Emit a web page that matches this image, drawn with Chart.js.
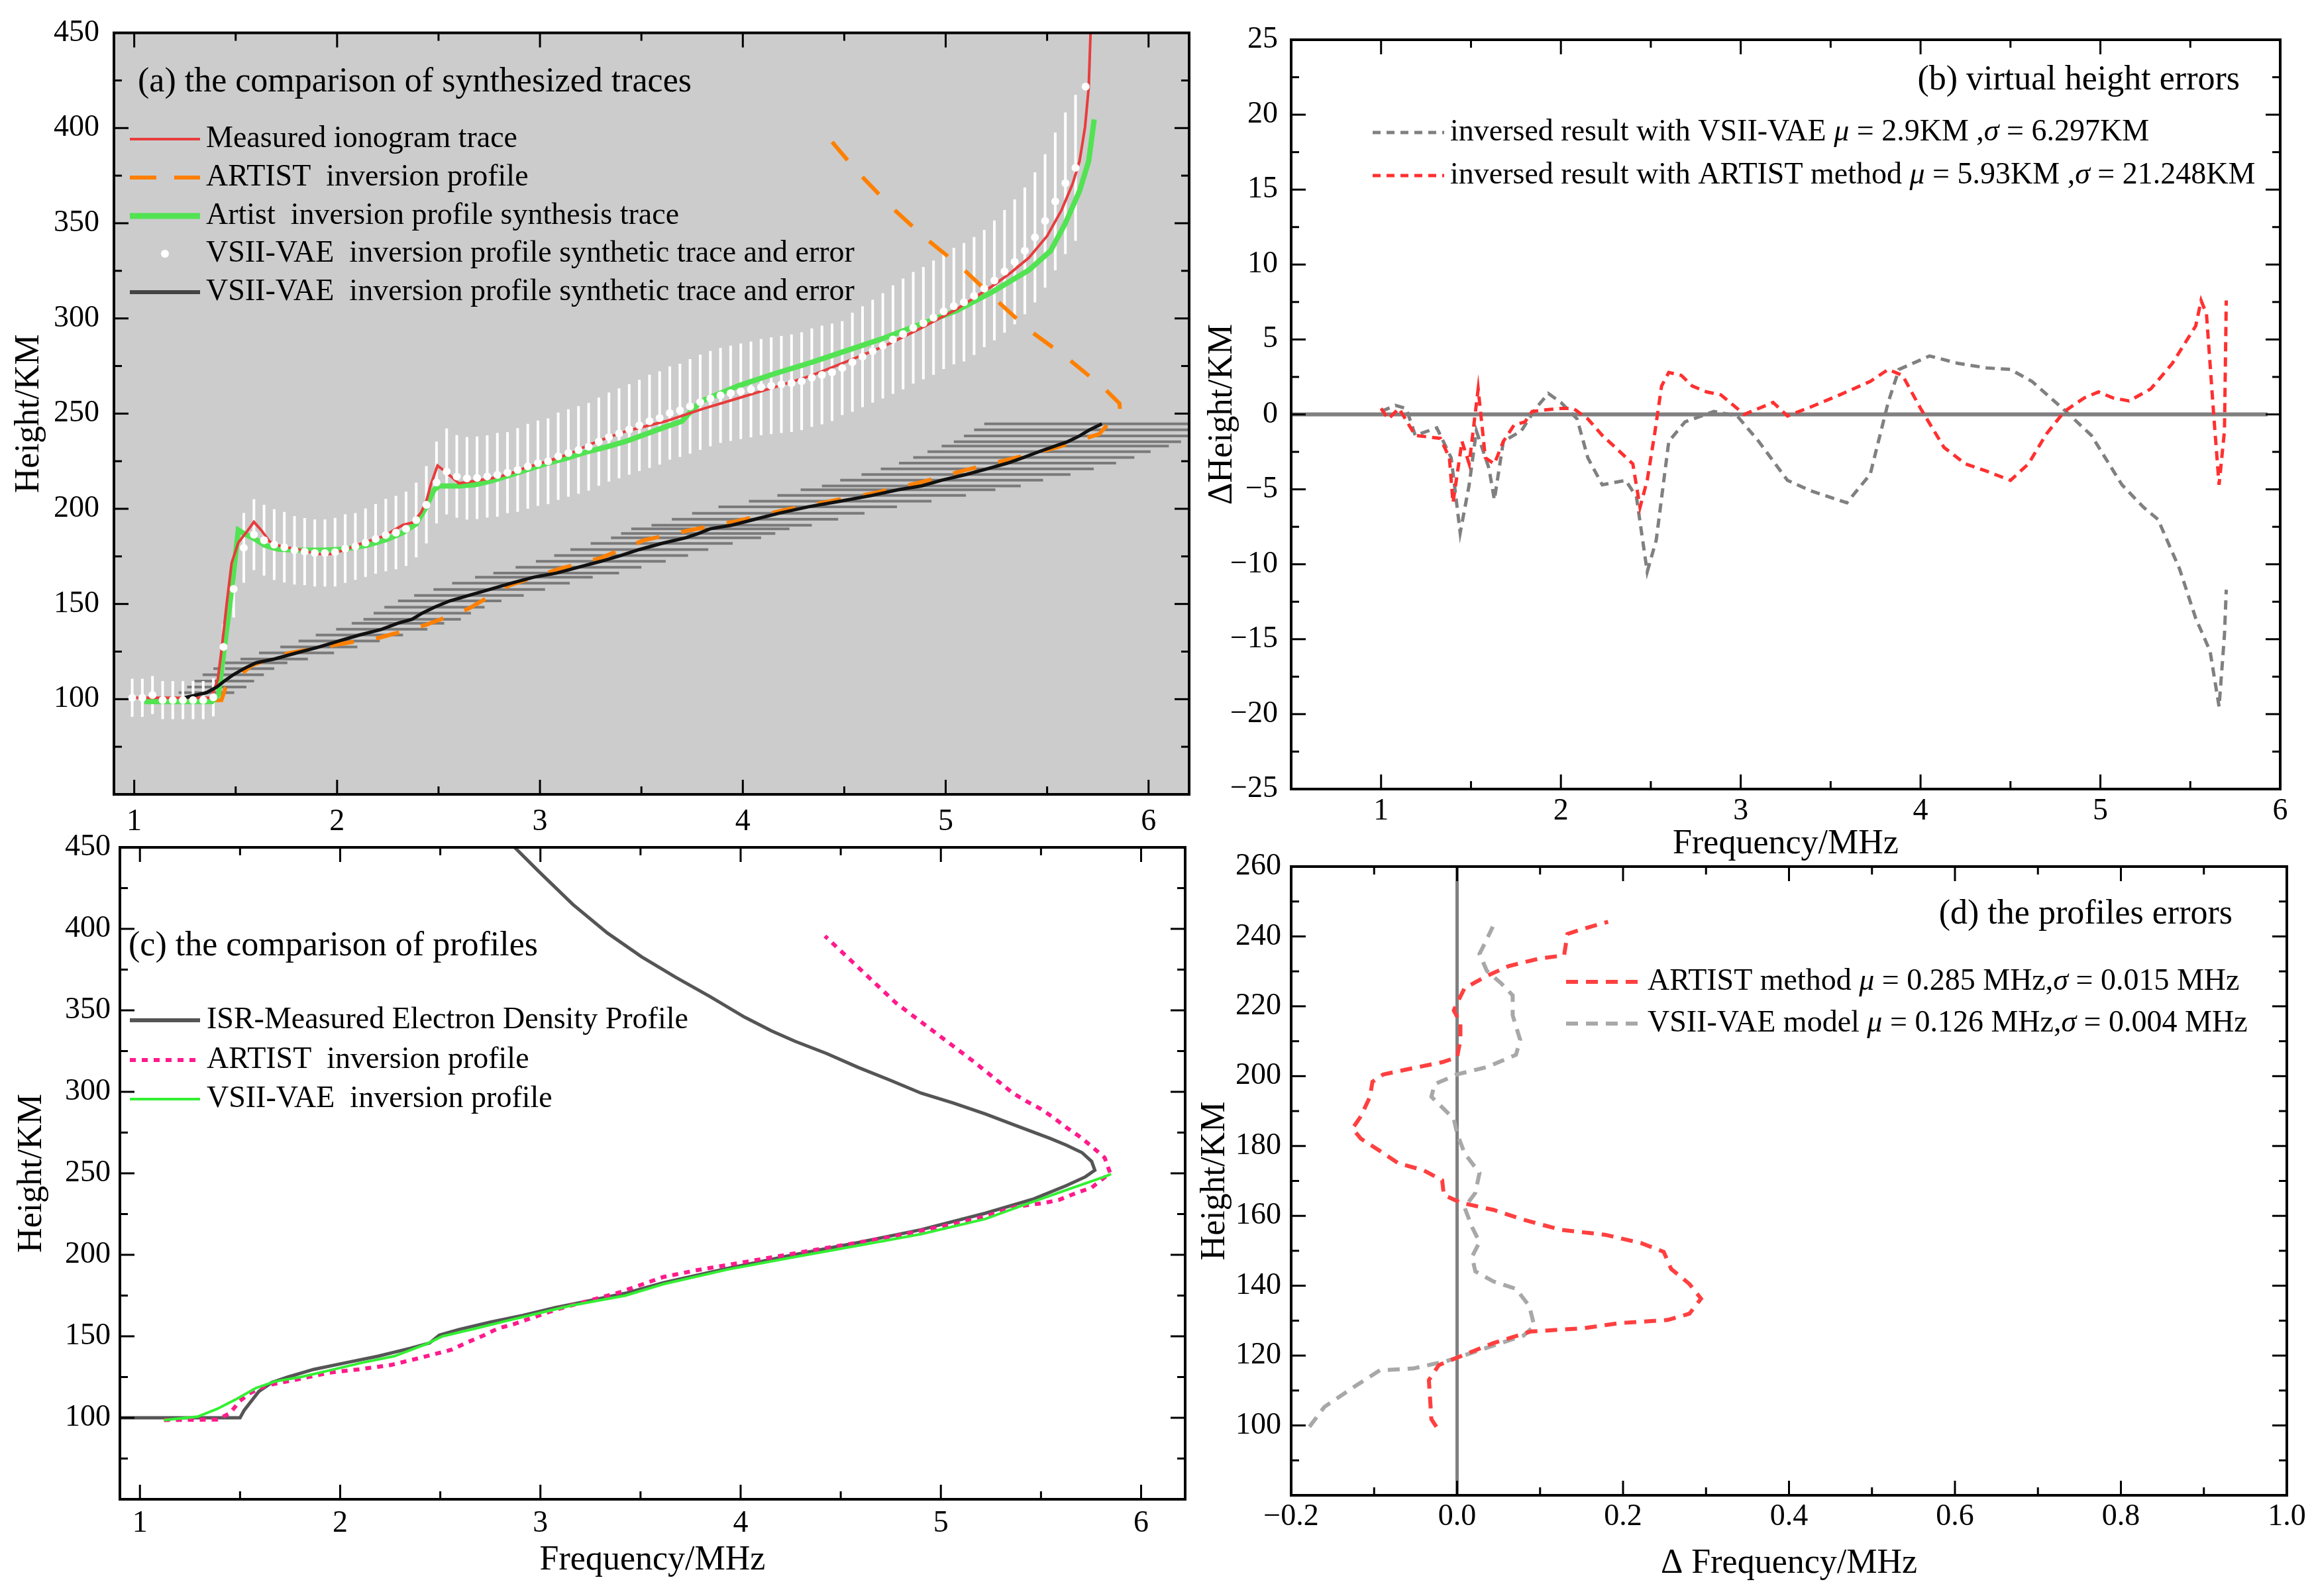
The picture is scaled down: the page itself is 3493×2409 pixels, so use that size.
<!DOCTYPE html>
<html><head><meta charset="utf-8">
<script src="https://cdn.jsdelivr.net/npm/chart.js@4.4.1/dist/chart.umd.min.js"></script>
<style>
html,body{margin:0;padding:0;background:#fff;}
body{width:3493px;height:2409px;position:relative;overflow:hidden;}
canvas{position:absolute;}
</style></head><body>
<canvas id="ca"></canvas><canvas id="cb"></canvas><canvas id="cc"></canvas><canvas id="cd"></canvas>
<script>
// ---------------- DATA ----------------
// Panel (a): measured ionogram trace
const measF = [1.00,1.38,1.412,1.431,1.456,1.48,1.513,1.561,1.59,1.626,1.667,1.724,1.805,1.902,1.967,2.032,2.13,2.227,2.324,2.373,2.414,2.438,2.462,2.495,2.535,2.60,2.682,2.763,2.844,2.925,3.006,3.088,3.169,3.25,3.331,3.429,3.62,3.80,3.978,4.157,4.336,4.515,4.694,4.873,5.052,5.231,5.321,5.41,5.50,5.571,5.625,5.66,5.687,5.705,5.714];
const measH = [100.7,100.7,110.4,126.4,150.3,171.5,182.2,188.8,193.1,188.8,182.8,180.2,178.8,176.2,176.2,178.2,182.2,185.5,191.5,192.8,198.1,203.4,212.7,222.7,219.4,213.4,214.7,216.1,218.1,221.4,224.0,226.7,230.0,234.0,237.3,240.9,246.0,252.4,258.1,263.9,269.9,277.5,285.3,294.6,304.7,317.1,324.0,331.9,343.3,356.9,370.5,382.7,400.6,421.4,450];
// Panel (a): ARTIST inversion profile synthesis trace
const synF = [1.05,1.383,1.415,1.44,1.464,1.488,1.513,1.545,1.594,1.643,1.708,1.805,1.935,2.032,2.146,2.243,2.324,2.39,2.438,2.478,2.503,2.60,2.682,2.763,2.844,2.941,3.039,3.136,3.234,3.331,3.428,3.62,3.70,3.76,3.80,3.978,4.157,4.336,4.515,4.694,4.873,5.052,5.231,5.41,5.517,5.589,5.66,5.705,5.732];
const synH = [98.7,98.7,102.4,123.7,143.6,164.9,188.8,186.8,184.2,180.8,178.8,178.2,178.2,178.8,180.8,183.8,187.5,192.1,200.8,210.0,212.0,212.0,212.7,214.7,217.4,220.7,224.0,226.7,230.0,232.6,235.6,243.1,246.0,253.0,256.7,264.6,271.0,276.8,283.2,289.6,296.8,304.0,314.0,325.4,335.5,349.8,367.0,382.7,404.5];
// Panel (a): ARTIST inversion profile
const artAF = [1.15,1.43,1.45,1.513,1.578,1.74,1.805,2.016,2.21,2.438,2.649,2.844,3.088,3.3,3.513,3.736,3.96,4.192,4.416,4.649,4.872,5.096,5.319,5.552,5.757,5.8,5.86,5.857,5.78,5.603,5.41,5.249,5.074,4.895,4.726,4.565,4.417];
const artAH = [99,99.5,106,111.8,117.7,123.7,125,129,132.3,139,147.6,159.6,168.2,174.2,183.5,188.7,193.3,199.1,203.7,208.3,213.8,220.3,226.1,232.4,239.3,244.5,250,255.3,263.4,278.9,294,309.7,327.2,342.6,359.1,377,395.6];
// Panel (a): VSII-VAE synthetic trace points and vertical errors
const vsiiF = [0.99,1.04,1.09,1.14,1.19,1.24,1.29,1.34,1.39,1.44,1.49,1.54,1.59,1.64,1.69,1.74,1.79,1.84,1.89,1.94,1.99,2.04,2.09,2.14,2.19,2.24,2.29,2.34,2.39,2.44,2.49,2.54,2.59,2.64,2.69,2.74,2.79,2.84,2.89,2.94,2.99,3.04,3.09,3.14,3.19,3.24,3.29,3.34,3.39,3.44,3.49,3.54,3.59,3.64,3.69,3.74,3.79,3.84,3.89,3.94,3.99,4.04,4.09,4.14,4.19,4.24,4.29,4.34,4.39,4.44,4.49,4.54,4.59,4.64,4.69,4.74,4.79,4.84,4.89,4.94,4.99,5.04,5.09,5.14,5.19,5.24,5.29,5.34,5.39,5.44,5.49,5.54,5.59,5.64,5.69];
const vsiiH = [100.7,100.7,102.2,99.5,99.5,99.5,99.5,99.5,101.0,127.4,157.9,179.5,186.4,183.5,181.2,179.8,178.2,177.5,176.8,176.8,177.2,179.1,180.2,182.2,184.2,186.2,187.5,189.5,194.1,202.1,213.8,219.6,217.0,216.0,216.3,217.0,217.8,219.0,220.4,222.3,224.0,225.0,227.6,229.3,230.9,232.6,235.3,237.7,239.6,241.7,243.8,246.0,247.7,250.3,251.7,253.8,256.0,257.9,259.6,260.7,261.7,262.7,263.9,264.6,265.3,266.0,267.0,268.9,270.3,271.7,273.9,277.0,279.9,282.8,285.6,288.9,291.8,295.1,297.5,300.4,303.7,306.5,308.5,311.8,315.7,320.0,324.7,329.7,335.5,342.6,351.2,361.5,371.0,379.1,421.8];
const vsiiErr = [10,10,10,10,10,10,10,10,10,12,15,18.3,18.6,18.6,18.6,18.5,18,17.6,17.6,17.6,18,18,17.5,18,18.3,19,19.3,19.5,19.6,20.3,21.5,22.6,21.7,21.7,21.7,21.6,22,21.3,22,22.3,22.4,22.5,22.9,23,23,23,23.2,23.4,23.6,23.8,24,24.5,24.5,24.5,24.5,24.8,25,25,25,25,25.1,25.2,25.3,25.4,25.5,25.6,25.7,25.8,25.9,25.6,24.7,26,26.5,27,27.7,28.5,29.1,29.3,29.5,30,30.3,30.6,31.1,31,30.8,31.5,32.2,32.8,33.3,34.2,35.1,36.2,37.2,38.3,0];
// Panel (a): VSII-VAE inversion profile and horizontal errors
const profF = [1.25,1.356,1.407,1.444,1.488,1.54,1.60,1.69,1.80,1.91,2.01,2.11,2.22,2.30,2.37,2.42,2.48,2.555,2.65,2.75,2.857,2.97,3.08,3.19,3.30,3.40,3.49,3.60,3.72,3.78,3.84,3.945,4.06,4.175,4.32,4.48,4.635,4.765,4.88,4.98,5.10,5.205,5.305,5.385,5.46,5.54,5.60,5.66,5.71,5.77];
const profH = [100.8,103.4,106.4,109.5,112.8,116.0,119.1,121.1,124.3,127.4,130.6,133.7,136.7,139.9,142.0,145.2,148.3,151.6,154.5,157.6,160.9,164.1,166.2,169.3,172.4,175.5,178.6,181.8,184.8,187.0,189.5,191.4,194.5,197.6,201.0,204.0,207.0,210.0,212.0,215.0,218.0,221.0,224.0,227.0,230.0,233.0,235.2,238.3,241.5,244.6];
const profErr = [0,.137,.146,.147,.151,.150,.155,.166,.185,.19,.20,.215,.225,.228,.24,.24,.247,.255,.27,.275,.29,.29,.31,.31,.32,.33,.34,.35,.37,.38,.39,.395,.41,.425,.44,.45,.465,.48,.49,.50,.515,.525,.535,.545,.55,.56,.56,.57,.57,.58];

// Panel (b): virtual height errors
const bVaeF = [1.0,1.08,1.14,1.19,1.31,1.39,1.44,1.49,1.53,1.6,1.63,1.68,1.78,1.86,1.93,2.0,2.09,2.15,2.23,2.36,2.42,2.48,2.53,2.6,2.69,2.85,2.98,3.1,3.26,3.39,3.59,3.72,3.82,3.88,4.05,4.21,4.37,4.5,4.62,4.79,4.95,5.12,5.24,5.32,5.44,5.53,5.61,5.66,5.69,5.7];
const bVaeV = [0.2,0.6,0.4,-1.4,-0.9,-2.9,-7.9,-4.7,-1.1,-3.6,-5.7,-1.8,-1.1,0.4,1.4,0.8,-0.3,-2.9,-4.7,-4.4,-5.5,-10.5,-8.4,-1.8,-0.5,0.2,-0.1,-1.8,-4.4,-5.1,-5.9,-4.0,0.8,3.0,3.9,3.4,3.1,3.0,2.2,0.4,-1.4,-4.7,-6.2,-7.0,-10.3,-13.6,-15.8,-19.5,-14.7,-11.7];
const bArtF = [1.0,1.04,1.1,1.19,1.33,1.38,1.4,1.45,1.49,1.54,1.58,1.63,1.68,1.74,1.8,1.84,1.91,2.0,2.07,2.15,2.23,2.32,2.4,2.44,2.48,2.52,2.56,2.6,2.67,2.73,2.81,2.89,3.02,3.1,3.18,3.26,3.39,3.55,3.72,3.82,3.9,4.0,4.13,4.25,4.37,4.5,4.6,4.7,4.8,4.91,4.99,5.07,5.16,5.28,5.4,5.53,5.56,5.59,5.63,5.66,5.69,5.7];
const bArtV = [0.4,-0.3,0.4,-1.4,-1.6,-2.9,-5.9,-1.8,-3.3,1.7,-2.9,-3.3,-1.8,-0.7,-0.5,0.2,0.3,0.4,0.4,-0.3,-1.4,-2.4,-3.3,-6.2,-4.4,-1.4,1.9,2.8,2.6,1.9,1.5,1.3,0.0,0.4,0.8,-0.1,0.5,1.3,2.2,3.0,2.6,0.4,-2.2,-3.3,-3.8,-4.4,-3.3,-1.3,0.2,1.1,1.5,1.1,0.9,1.7,3.4,5.9,7.6,6.7,0.0,-4.7,-1.1,7.6];
const bZeroF = [0.5,5.93];
const bZeroV = [0,0];

// Panel (c): profiles
const isrF = [0.9,1.50,1.52,1.594,1.658,1.739,1.868,2.029,2.19,2.35,2.447,2.495,2.592,2.752,2.913,3.074,3.235,3.425,3.614,3.936,4.257,4.579,4.901,5.222,5.464,5.625,5.721,5.769,5.753,5.705,5.625,5.544,5.383,5.222,5.062,4.901,4.745,4.587,4.43,4.272,4.154,4.02,3.848,3.676,3.505,3.334,3.162,2.991,2.871];
const isrH = [100,100,104.5,116.2,121.6,125,129.7,133.8,137.8,142.6,145.9,150.7,154.1,158.8,162.8,167.6,171.6,176.4,182.9,191.7,199.8,207.3,215.4,225.5,234.3,242.4,247.8,251.9,257.3,262.7,267.4,271.5,278.9,286.4,293.1,299.2,307.2,315.0,323.5,331,337.4,345.8,358.4,370.3,382.9,397.5,415.0,435.3,450];
const cArtF = [1.12,1.385,1.449,1.497,1.546,1.626,1.787,1.948,2.093,2.254,2.414,2.559,2.64,2.72,2.785,2.865,2.946,3.074,3.235,3.396,3.614,3.775,3.936,4.097,4.257,4.418,4.579,4.74,4.901,5.062,5.222,5.383,5.512,5.592,5.673,5.753,5.802,5.845,5.818,5.745,5.689,5.625,5.56,5.496,5.424,5.36,5.155,4.777,4.421];
const cArtH = [98.6,98.9,102.7,110.1,114.9,119.6,123.6,127.7,129.7,132.4,137.2,141.9,146.6,150.7,154.7,157.4,160.8,166.2,171.6,177,186.4,190.4,193.8,197.2,200.6,204,207.3,210.7,214.8,218.8,223.6,229.7,231.7,233.8,237.8,241.2,246,250.3,259.6,267.4,272.9,278.3,284.4,289.7,294.5,299.2,319.4,354.4,395.6];
const cVaeF = [1.12,1.288,1.385,1.482,1.578,1.675,1.803,1.948,2.109,2.27,2.431,2.511,2.672,2.833,2.994,3.155,3.425,3.614,3.936,4.257,4.579,4.901,5.222,5.383,5.625,5.815,5.85];
const cVaeH = [98.6,100.7,105.4,111.5,118.2,122.3,125,129.1,133.8,137.8,145.3,150,154.7,159.5,164.2,168.9,175,182,191,198.4,205.5,212.7,222,229.2,239.7,247.8,249.5];

// Panel (d): profile errors (x = delta frequency, y = height)
const dArtX = [-0.025,-0.031,-0.034,-0.022,0.0,0.044,0.089,0.151,0.196,0.254,0.28,0.294,0.28,0.258,0.249,0.222,0.178,0.125,0.08,0.044,0.004,-0.016,-0.018,-0.04,-0.071,-0.093,-0.116,-0.126,-0.116,-0.105,-0.102,-0.089,-0.053,-0.018,0.0,0.004,0.004,-0.004,0.0,0.009,0.036,0.062,0.098,0.129,0.133,0.151,0.182];
const dArtH = [99.6,101.8,113,117.3,119.4,123.6,126.9,127.8,129.3,130.2,132,136.3,140.5,144.8,149.7,152.2,154.6,156,158.9,161.7,163.8,166,170.2,173,175.1,178.6,182.1,185,188.5,194.1,198.4,200.5,202.3,204,205.4,210.4,215.3,218.8,220.9,225.2,228.7,231.5,233.6,234.6,240.7,242.1,244.2];
const dVaeX = [-0.178,-0.16,-0.125,-0.093,-0.053,-0.013,0.009,0.044,0.08,0.093,0.087,0.071,0.044,0.022,0.018,0.027,0.018,0.009,0.022,0.027,0.009,0.0,-0.004,-0.022,-0.031,-0.027,0.0,0.036,0.071,0.076,0.067,0.067,0.053,0.036,0.027,0.036,0.043];
const dVaeH = [99.6,105.3,110.9,115.8,116.3,118.4,120.1,122.9,125.7,128.5,134.2,139.1,141.2,144.1,148.3,152.5,156.8,162.4,166.6,172.3,177.9,183.6,187.8,192,194.1,197.7,200.5,202.6,206.1,210.4,217.4,223.1,226.6,230.1,235,239.3,242.8];
const dZeroX = [0,0];
const dZeroH = [80,260];

// Tick labels
const xTicksAC = [1,2,3,4,5,6];
const yTicksAC = [100,150,200,250,300,350,400,450];
const xTicksB = [1,2,3,4,5,6];
const yTicksB = [-25,-20,-15,-10,-5,0,5,10,15,20,25];
const xTicksD = [-0.2,0,0.2,0.4,0.6,0.8,1.0];
const yTicksD = [100,120,140,160,180,200,220,240,260];

// ---------------- HELPERS ----------------
const FONT = '"Liberation Serif","Times New Roman",serif';
Chart.defaults.font.family = FONT;
const zip = (xs, ys) => xs.map((x, i) => ({x, y: ys[i]}));
function vBars(xs, ys, es) {
  const out = [];
  xs.forEach((x, i) => { if (es[i] > 0) out.push({x, y: ys[i] - es[i]}, {x, y: ys[i] + es[i]}, {x, y: null}); });
  return out;
}
function hBars(xs, ys, es) {
  const out = [];
  xs.forEach((x, i) => { if (es[i] > 0) out.push({x: x - es[i], y: ys[i]}, {x: x + es[i], y: ys[i]}, {x, y: null}); });
  return out;
}
const minusFmt = v => String(v).replace('-', '\u2212');

const framePlugin = {
  id: 'frame',
  beforeDatasetsDraw(chart, args, o) {
    if (!o.bg) return;
    const a = chart.chartArea, ctx = chart.ctx;
    ctx.save(); ctx.fillStyle = o.bg; ctx.fillRect(a.left, a.top, a.right - a.left, a.bottom - a.top); ctx.restore();
  },
  afterDatasetsDraw(chart, args, o) {
    const {ctx, chartArea: a, scales: {x, y}} = chart;
    ctx.save();
    ctx.strokeStyle = '#000';
    ctx.lineWidth = 3;
    const seg = (x0, y0, x1, y1) => { ctx.beginPath(); ctx.moveTo(x0, y0); ctx.lineTo(x1, y1); ctx.stroke(); };
    const drawAxisTicks = (scale, minor, horiz) => {
      const majors = scale.ticks.map(t => t.value);
      const vals = majors.map(v => [v, o.major]);
      const k0 = Math.ceil(scale.min / minor - 1e-6), k1 = Math.floor(scale.max / minor + 1e-6);
      for (let k = k0; k <= k1; k++) {
        const v = k * minor;
        if (!majors.some(m => Math.abs(m - v) < 1e-6)) vals.push([v, o.minor]);
      }
      vals.forEach(([v, len]) => {
        const p = scale.getPixelForValue(v);
        if (horiz) { if (p < a.left + 2 || p > a.right - 2) return; seg(p, a.bottom, p, a.bottom - len); seg(p, a.top, p, a.top + len); }
        else { if (p < a.top + 2 || p > a.bottom - 2) return; seg(a.left, p, a.left + len, p); seg(a.right, p, a.right - len, p); }
      });
    };
    drawAxisTicks(x, o.xMinor, true);
    drawAxisTicks(y, o.yMinor, false);
    ctx.lineWidth = 4;
    ctx.strokeRect(a.left, a.top, a.right - a.left, a.bottom - a.top);
    ctx.restore();
  }
};

const notesPlugin = {
  id: 'notes',
  afterDraw(chart, args, o) {
    const ctx = chart.ctx;
    ctx.save();
    ctx.fillStyle = '#000'; ctx.textBaseline = 'middle';
    if (o.title) {
      ctx.font = o.title.size + 'px ' + FONT;
      ctx.textAlign = o.title.align || 'left';
      ctx.fillText(o.title.text, o.title.x - o.ox, o.title.y - o.oy);
    }
    (o.items || []).forEach(it => {
      const yy = it.y - o.oy, x0 = o.sx0 - o.ox, x1 = o.sx1 - o.ox;
      const s = it.sample;
      if (s.type === 'dot') {
        ctx.fillStyle = s.color; ctx.beginPath(); ctx.arc((x0 + x1) / 2, yy, s.r, 0, Math.PI * 2); ctx.fill();
      } else {
        ctx.strokeStyle = s.color; ctx.lineWidth = s.width; ctx.setLineDash(s.dash || []);
        ctx.beginPath(); ctx.moveTo(x0, yy); ctx.lineTo(x1, yy); ctx.stroke(); ctx.setLineDash([]);
      }
      ctx.fillStyle = '#000'; ctx.textAlign = 'left';
      let xx = o.tx - o.ox;
      it.text.forEach(([str, ital]) => {
        ctx.font = (ital ? 'italic ' : '') + o.size + 'px ' + FONT;
        ctx.fillText(str, xx, yy);
        xx += ctx.measureText(str).width;
      });
    });
    ctx.restore();
  }
};

function axis(o) {
  return {
    type: 'linear', min: o.min, max: o.max,
    afterBuildTicks: s => { s.ticks = o.ticks.map(v => ({value: v})); },
    afterFit: s => { if (o.horiz) s.height = o.size; else s.width = o.size; },
    grid: {display: false, drawTicks: false},
    border: {display: false},
    ticks: {autoSkip: false, maxRotation: 0, minRotation: 0, padding: o.pad, color: '#000',
            font: {family: FONT, size: 46}, callback: o.fmt || minusFmt},
    title: o.title ? {display: true, text: o.title, color: '#000', font: {family: FONT, size: 52},
            padding: o.horiz ? {top: 0, bottom: 5} : {top: o.tpad, bottom: 0}} : {display: false}
  };
}

function lineDs(d) {
  return Object.assign({showLine: true, pointRadius: 0, pointHoverRadius: 0, fill: false, tension: 0, clip: 0, spanGaps: false, borderDash: []}, d);
}

function panel(id, box, plot, xo, yo, datasets, frame, notes) {
  const cv = document.getElementById(id);
  cv.width = box.w; cv.height = box.h;
  Object.assign(cv.style, {left: box.x + 'px', top: box.y + 'px', width: box.w + 'px', height: box.h + 'px'});
  xo.horiz = true; xo.size = box.y + box.h - plot.b;
  yo.horiz = false; yo.size = plot.l - box.x;
  notes.ox = box.x; notes.oy = box.y;
  new Chart(cv, {
    type: 'scatter',
    data: {datasets},
    options: {
      responsive: false, animation: false, devicePixelRatio: 1, events: [],
      layout: {padding: {left: 0, top: plot.t - box.y, right: box.x + box.w - plot.r, bottom: 0}},
      scales: {x: axis(xo), y: axis(yo)},
      plugins: {legend: {display: false}, tooltip: {enabled: false}, frame, notes}
    },
    plugins: [framePlugin, notesPlugin]
  });
}

// ---------------- PANEL (a) ----------------
panel('ca', {x: 0, y: 0, w: 1840, h: 1280}, {l: 172, t: 40, r: 1795, b: 1199},
  {min: 0.9, max: 6.2, ticks: xTicksAC, pad: 14},
  {min: 50, max: 450, ticks: yTicksAC, pad: 22, title: 'Height/KM', tpad: 13},
  [
    lineDs({data: hBars(profF, profH, profErr), borderColor: '#7a7a7a', borderWidth: 4, order: 10}),
    lineDs({data: vBars(vsiiF, vsiiH, vsiiErr), borderColor: '#ffffff', borderWidth: 4, order: 9}),
    lineDs({data: zip(artAF, artAH), borderColor: '#ff8000', borderWidth: 6, borderDash: [36, 34], order: 8}),
    lineDs({data: zip(synF, synH), borderColor: '#52e352', borderWidth: 8, order: 7}),
    lineDs({data: zip(measF, measH), borderColor: '#e83c3c', borderWidth: 4, order: 6}),
    lineDs({data: zip(profF, profH), borderColor: '#111111', borderWidth: 5, order: 5}),
    lineDs({data: zip(vsiiF, vsiiH), showLine: false, pointRadius: 6, pointBackgroundColor: '#ffffff', pointBorderWidth: 0, order: 4})
  ],
  {bg: '#cccccc', xMinor: 0.5, yMinor: 25, major: 22, minor: 12},
  {title: {text: '(a) the comparison of synthesized traces', x: 208, y: 124, size: 52},
   size: 46, sx0: 196, sx1: 302, tx: 311,
   items: [
     {y: 210, sample: {type: 'line', color: '#e83c3c', width: 4}, text: [['Measured ionogram trace', false]]},
     {y: 268, sample: {type: 'line', color: '#ff8000', width: 6, dash: [40, 27]}, text: [['ARTIST  inversion profile', false]]},
     {y: 326, sample: {type: 'line', color: '#52e352', width: 9}, text: [['Artist  inversion profile synthesis trace', false]]},
     {y: 383, sample: {type: 'dot', color: '#ffffff', r: 6}, text: [['VSII-VAE  inversion profile synthetic trace and error', false]]},
     {y: 441, sample: {type: 'line', color: '#444444', width: 6}, text: [['VSII-VAE  inversion profile synthetic trace and error', false]]}
   ]});

// ---------------- PANEL (b) ----------------
panel('cb', {x: 1804, y: 0, w: 1689, h: 1311}, {l: 1949, t: 60, r: 3442, b: 1191},
  {min: 0.5, max: 6, ticks: xTicksB, pad: 6, title: 'Frequency/MHz'},
  {min: -25, max: 25, ticks: yTicksB, pad: 20, title: '\u0394Height/KM', tpad: 10},
  [
    lineDs({data: zip(bZeroF, bZeroV), borderColor: '#808080', borderWidth: 6, order: 3}),
    lineDs({data: zip(bVaeF, bVaeV), borderColor: '#808080', borderWidth: 5, borderDash: [14, 9], order: 2}),
    lineDs({data: zip(bArtF, bArtV), borderColor: '#ff3030', borderWidth: 5, borderDash: [14, 9], order: 1})
  ],
  {xMinor: 0.5, yMinor: 2.5, major: 22, minor: 12},
  {title: {text: '(b) virtual height errors', x: 3381, y: 121, size: 52, align: 'right'},
   size: 46, sx0: 2072, sx1: 2180, tx: 2189,
   items: [
     {y: 200, sample: {type: 'line', color: '#808080', width: 5, dash: [12, 9]},
      text: [['inversed result with VSII-VAE ', false], ['\u03bc', true], [' = 2.9KM ,', false], ['\u03c3', true], [' = 6.297KM', false]]},
     {y: 265, sample: {type: 'line', color: '#ff3030', width: 5, dash: [12, 9]},
      text: [['inversed result with ARTIST method ', false], ['\u03bc', true], [' = 5.93KM ,', false], ['\u03c3', true], [' = 21.248KM', false]]}
   ]});

// ---------------- PANEL (c) ----------------
panel('cc', {x: 0, y: 1230, w: 1840, h: 1162}, {l: 181, t: 1279, r: 1789, b: 2263},
  {min: 0.9, max: 6.22, ticks: xTicksAC, pad: 9, title: 'Frequency/MHz'},
  {min: 50, max: 450, ticks: yTicksAC, pad: 14, title: 'Height/KM', tpad: 17},
  [
    lineDs({data: zip(isrF, isrH), borderColor: '#555555', borderWidth: 5, order: 3}),
    lineDs({data: zip(cArtF, cArtH), borderColor: '#ff1a8c', borderWidth: 6, borderDash: [9, 9], order: 2}),
    lineDs({data: zip(cVaeF, cVaeH), borderColor: '#33f033', borderWidth: 4, order: 1})
  ],
  {xMinor: 0.5, yMinor: 25, major: 22, minor: 12},
  {title: {text: '(c) the comparison of profiles', x: 194, y: 1428, size: 52},
   size: 46, sx0: 196, sx1: 302, tx: 312,
   items: [
     {y: 1540, sample: {type: 'line', color: '#555555', width: 6}, text: [['ISR-Measured Electron Density Profile', false]]},
     {y: 1600, sample: {type: 'line', color: '#ff1a8c', width: 6, dash: [9, 9]}, text: [['ARTIST  inversion profile', false]]},
     {y: 1659, sample: {type: 'line', color: '#33f033', width: 4}, text: [['VSII-VAE  inversion profile', false]]}
   ]});

// ---------------- PANEL (d) ----------------
panel('cd', {x: 1793, y: 1250, w: 1700, h: 1147}, {l: 1949, t: 1308, r: 3452, b: 2257},
  {min: -0.2, max: 1.0, ticks: xTicksD, pad: 5, title: '\u0394 Frequency/MHz', fmt: v => Number(v).toFixed(1).replace('-', '\u2212')},
  {min: 80, max: 260, ticks: yTicksD, pad: 15, title: 'Height/KM', tpad: 10},
  [
    lineDs({data: zip(dZeroX, dZeroH), borderColor: '#808080', borderWidth: 5, order: 3}),
    lineDs({data: zip(dVaeX, dVaeH), borderColor: '#a8a8a8', borderWidth: 6, borderDash: [18, 12], order: 2}),
    lineDs({data: zip(dArtX, dArtH), borderColor: '#ff4040', borderWidth: 6, borderDash: [18, 12], order: 1})
  ],
  {xMinor: 0.1, yMinor: 10, major: 22, minor: 12},
  {title: {text: '(d) the profiles errors', x: 3370, y: 1380, size: 52, align: 'right'},
   size: 46, sx0: 2364, sx1: 2476, tx: 2487,
   items: [
     {y: 1482, sample: {type: 'line', color: '#ff4040', width: 6, dash: [18, 12]},
      text: [['ARTIST method ', false], ['\u03bc', true], [' = 0.285 MHz,', false], ['\u03c3', true], [' = 0.015 MHz', false]]},
     {y: 1545, sample: {type: 'line', color: '#a8a8a8', width: 6, dash: [18, 12]},
      text: [['VSII-VAE model ', false], ['\u03bc', true], [' = 0.126 MHz,', false], ['\u03c3', true], [' = 0.004 MHz', false]]}
   ]});
</script>
</body></html>
